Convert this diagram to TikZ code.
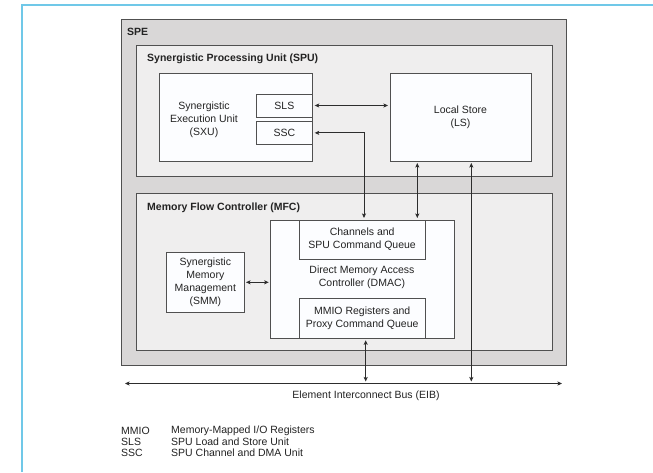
\documentclass[tikz,border=0pt]{standalone}
\usepackage{fontspec}
\setmainfont{Liberation Sans}
\usetikzlibrary{arrows.meta}
\definecolor{frameblue}{RGB}{112,200,232}
\definecolor{spegray}{RGB}{217,215,215}
\definecolor{unitgray}{RGB}{239,238,238}
\definecolor{innerfill}{RGB}{252,253,255}
\definecolor{boxc}{RGB}{80,80,80}
\definecolor{linec}{RGB}{45,45,45}
\definecolor{txt}{RGB}{35,35,35}
\tikzset{
  box/.style={draw=boxc, line width=0.9pt, anchor=north west, inner sep=0pt, outer sep=0pt,
    align=center, text=txt, font=\fontsize{10.5}{12.8}\selectfont},
  lab/.style={inner sep=0pt, align=center, text=txt, font=\fontsize{10.5}{12.8}\selectfont},
  title/.style={inner sep=0pt, anchor=west, text=txt, font=\fontsize{10.5}{12.8}\selectfont\bfseries},
  legend/.style={inner sep=0pt, anchor=west, text=txt, font=\fontsize{10.5}{12}\selectfont},
  link/.style={draw=linec, line width=0.8pt,
    {Stealth[length=4.5pt,width=4pt,inset=1pt]}-{Stealth[length=4.5pt,width=4pt,inset=1pt]},
    shorten <=2pt, shorten >=2pt}
}
\begin{document}
\begin{tikzpicture}[x=1pt,y=-1pt]
\useasboundingbox (0,0) rectangle (653,472);
\fill[white] (0,0) rectangle (653,472);
\draw[frameblue, line width=2pt] (22,472) -- (22,5) -- (653,5);

% SPE
\node[box, fill=spegray, minimum width=445pt, minimum height=346pt] (spe) at (121,19) {};
\node[title] (spelbl) at (127,32) {SPE};

% SPU
\node[box, fill=unitgray, minimum width=416pt, minimum height=131pt] (spu) at (136,45.5) {};
\node[title] (spulbl) at (147,59) {Synergistic Processing Unit (SPU)};
\node[box, fill=innerfill, minimum width=153.7pt, minimum height=88pt] (sxu) at (159,73) {};
\node[lab] (sxut) at (204,120) {Synergistic\\Execution Unit\\(SXU)};
\node[box, fill=innerfill, minimum width=56.7pt, minimum height=23pt] (sls) at (256,94) {SLS};
\node[box, fill=innerfill, minimum width=56.7pt, minimum height=22.3pt] (ssc) at (256,121.7) {SSC};
\node[box, fill=innerfill, minimum width=141pt, minimum height=88pt] (ls) at (390,73) {Local Store\\(LS)};

% MFC
\node[box, fill=unitgray, minimum width=416pt, minimum height=156.7pt] (mfc) at (136,193.3) {};
\node[title] (mfclbl) at (147,208) {Memory Flow Controller (MFC)};
\node[box, fill=innerfill, minimum width=183.3pt, minimum height=118.3pt] (dmac) at (270.7,220) {};
\node[box, fill=innerfill, minimum width=125.7pt, minimum height=39pt] (ch) at (299.3,220) {Channels and\\SPU Command Queue};
\node[lab] (dmact) at (362,277.5) {Direct Memory Access\\Controller (DMAC)};
\node[box, fill=innerfill, minimum width=125.7pt, minimum height=40.3pt] (mmio) at (299.3,298) {MMIO Registers and\\Proxy Command Queue};
\node[box, fill=innerfill, minimum width=77.3pt, minimum height=60pt] (smm) at (166.7,252.3) {Synergistic\\Memory\\Management\\(SMM)};

% EIB
\coordinate (eibL) at (125,383.5);
\coordinate (eibR) at (562,383.5);
\node[lab] (eiblbl) at (366,396) {Element Interconnect Bus (EIB)};

% connectors
\coordinate (xssc) at (364,0);
\coordinate (xch) at (417.3,0);
\coordinate (xls) at (471.3,0);
\coordinate (xmm) at (365.7,0);
\draw[link] (sls.east) -- (sls.east -| ls.west);
\draw[link] (ssc.east) -- (ssc.east -| xssc) -- (xssc |- ch.north);
\draw[link] (xch |- ls.south) -- (xch |- ch.north);
\draw[link] (xls |- ls.south) -- (xls |- eibL);
\draw[link] (xmm |- mmio.south) -- (xmm |- eibL);
\draw[link] (smm.east) -- (smm.east -| dmac.west);
\draw[link, shorten <=0pt, shorten >=0pt] (eibL) -- (eibR);

% legend
\node[legend] (l1a) at (121,430.5) {MMIO};
\node[legend] (l1b) at (171,430.5) {Memory-Mapped I/O Registers};
\node[legend] (l2a) at (121,441.8) {SLS};
\node[legend] (l2b) at (171,441.8) {SPU Load and Store Unit};
\node[legend] (l3a) at (121,453) {SSC};
\node[legend] (l3b) at (171,453) {SPU Channel and DMA Unit};
\end{tikzpicture}
\end{document}
